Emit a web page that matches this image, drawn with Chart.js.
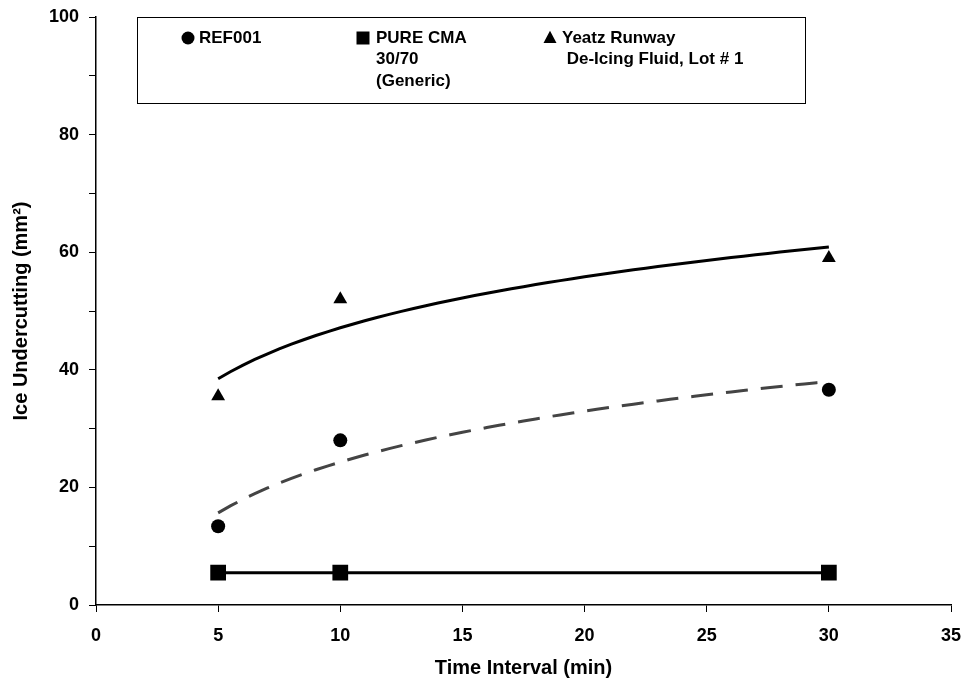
<!DOCTYPE html>
<html>
<head>
<meta charset="utf-8">
<script src="https://cdn.jsdelivr.net/npm/chart.js@4.4.1/dist/chart.umd.min.js"></script>
<style>
  html, body { margin: 0; padding: 0; background: #fff; }
  #wrap { width: 966px; height: 686px; }
</style>
</head>
<body>
<div id="wrap"><canvas id="undercutChart" width="966" height="686"></canvas></div>
<script>
let timeMin = [5, 10, 30];
let ref001 = [13.4, 28, 36.6];
let pureCma = [5.5, 5.5, 5.5];
let yeatz = [35.5, 52, 59];

let legendItems = [
  { style: 'circle', lines: ['REF001'] },
  { style: 'rect', lines: ['PURE CMA', '30/70', '(Generic)'] },
  { style: 'triangle', lines: ['Yeatz Runway', ' De-Icing Fluid, Lot # 1'] },
];

let family = '"Liberation Sans", Arial, sans-serif';

let toPoints = (xs, ys) => xs.map((x, i) => ({ x: x, y: ys[i] }));

// least squares fit y = a*ln(x) + b, sampled over the data range
let logTrend = (xs, ys) => {
  let lx = xs.map((x) => Math.log(x));
  let mx = lx.reduce((s, v) => s + v, 0) / lx.length;
  let my = ys.reduce((s, v) => s + v, 0) / ys.length;
  let num = 0;
  let den = 0;
  lx.forEach((v, i) => {
    num += (v - mx) * (ys[i] - my);
    den += (v - mx) * (v - mx);
  });
  let a = num / den;
  let b = my - a * mx;
  let pts = [];
  let x0 = xs[0];
  let x1 = xs[xs.length - 1];
  for (let i = 0; i <= 50; i++) {
    let x = x0 + ((x1 - x0) * i) / 50;
    pts.push({ x: x, y: a * Math.log(x) + b });
  }
  return pts;
};

let drawMarker = (ctx, style, x, y, r) => {
  ctx.beginPath();
  if (style === 'circle') {
    ctx.arc(x, y, r, 0, Math.PI * 2);
  } else if (style === 'rect') {
    ctx.rect(x - r, y - r, 2 * r, 2 * r);
  } else {
    ctx.moveTo(x, y - r * 1.1);
    ctx.lineTo(x + r, y + r * 0.75);
    ctx.lineTo(x - r, y + r * 0.75);
    ctx.closePath();
  }
  ctx.fillStyle = '#000';
  ctx.fill();
};

let boxLegend = {
  id: 'boxLegend',
  afterDatasetsDraw(chart) {
    let ctx = chart.ctx;
    ctx.save();
    ctx.fillStyle = '#fff';
    ctx.fillRect(137, 17, 668, 86);
    ctx.strokeStyle = '#000';
    ctx.lineWidth = 1;
    ctx.strokeRect(137.5, 17.5, 668, 86);
    ctx.font = 'bold 17px ' + family;
    ctx.textBaseline = 'middle';
    let cols = [
      { mark: 188, text: 199 },
      { mark: 363, text: 376 },
      { mark: 550, text: 562 },
    ];
    legendItems.forEach((item, i) => {
      drawMarker(ctx, item.style, cols[i].mark, 38, 6.5);
      ctx.fillStyle = '#000';
      item.lines.forEach((line, j) => {
        ctx.fillText(line, cols[i].text, 38 + j * 21.5);
      });
    });
    ctx.restore();
  },
};

let ctx = document.getElementById('undercutChart').getContext('2d');

new Chart(ctx, {
  type: 'scatter',
  data: {
    datasets: [
      {
        label: 'REF001',
        data: toPoints(timeMin, ref001),
        pointStyle: 'circle',
        pointRadius: 7,
        backgroundColor: '#000',
        borderColor: '#000',
        borderWidth: 0,
      },
      {
        label: 'PURE CMA 30/70 (Generic)',
        data: toPoints(timeMin, pureCma),
        showLine: true,
        pointStyle: 'rect',
        pointRadius: 9,
        backgroundColor: '#000',
        borderColor: '#000',
        borderWidth: 3,
      },
      {
        label: 'Yeatz Runway De-Icing Fluid, Lot # 1',
        data: toPoints(timeMin, yeatz),
        pointStyle: 'triangle',
        pointRadius: 8,
        backgroundColor: '#000',
        borderColor: '#000',
        borderWidth: 0,
      },
      {
        label: 'REF001 trend',
        data: logTrend(timeMin, ref001),
        showLine: true,
        pointRadius: 0,
        borderColor: '#444',
        borderWidth: 3,
        borderDash: [22, 13],
        tension: 0,
      },
      {
        label: 'Yeatz trend',
        data: logTrend(timeMin, yeatz),
        showLine: true,
        pointRadius: 0,
        borderColor: '#000',
        borderWidth: 3,
        tension: 0,
      },
    ],
  },
  options: {
    responsive: false,
    animation: false,
    layout: { padding: { top: 17, right: 15, left: 0, bottom: 0 } },
    plugins: {
      legend: { display: false },
      tooltip: { enabled: false },
    },
    scales: {
      x: {
        type: 'linear',
        min: 0,
        max: 35,
        afterFit: (scale) => {
          scale.height = 81;
          scale.paddingLeft = 0;
          scale.paddingRight = 0;
        },
        border: { display: true, color: '#000', width: 1.5 },
        grid: { drawOnChartArea: false, drawTicks: true, tickLength: 7, color: '#000', lineWidth: 1 },
        ticks: {
          stepSize: 5,
          color: '#000',
          padding: 13,
          maxRotation: 0,
          font: { family: family, size: 18, weight: 'bold' },
        },
        title: {
          display: true,
          text: 'Time Interval (min)',
          color: '#000',
          padding: { top: 0, bottom: 6 },
          font: { family: family, size: 20, weight: 'bold' },
        },
      },
      y: {
        min: 0,
        max: 100,
        afterFit: (scale) => {
          scale.width = 96;
          scale.paddingTop = 0;
          scale.paddingBottom = 0;
        },
        border: { display: true, color: '#000', width: 1.5 },
        grid: { drawOnChartArea: false, drawTicks: true, tickLength: 7, color: '#000', lineWidth: 1 },
        ticks: {
          stepSize: 10,
          color: '#000',
          padding: 10,
          callback: (v) => (v % 20 === 0 ? v : ''),
          font: { family: family, size: 18, weight: 'bold' },
        },
        title: {
          display: true,
          text: 'Ice Undercutting (mm²)',
          color: '#000',
          padding: { top: 9, bottom: 0 },
          font: { family: family, size: 20, weight: 'bold' },
        },
      },
    },
  },
  plugins: [boxLegend],
});
</script>
</body>
</html>
